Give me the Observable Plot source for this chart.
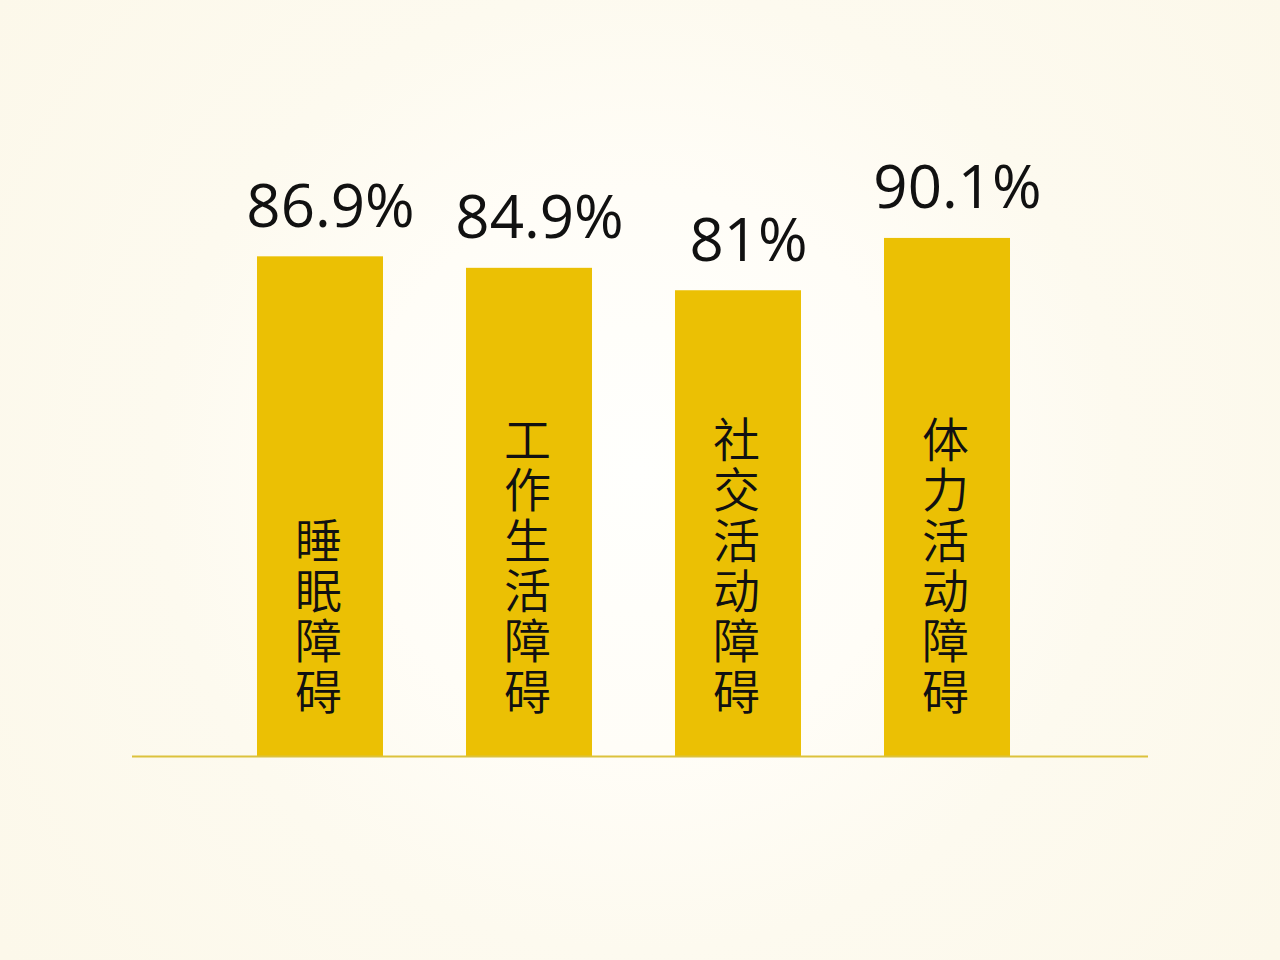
<!DOCTYPE html>
<html><head><meta charset="utf-8">
<script src="https://cdn.jsdelivr.net/npm/d3@7"></script>
<script src="https://cdn.jsdelivr.net/npm/@observablehq/plot@0.6"></script>
<style>
html,body{margin:0;padding:0;}
body{width:1280px;height:960px;overflow:hidden;background:radial-gradient(circle at 640px 470px, #fffffd 0px, #fffdf7 280px, #fdfaef 480px, #fcf8ea 800px);}
</style></head><body><div id="chart"></div>
<script>
const categories = ["睡眠障碍","工作生活障碍","社交活动障碍","体力活动障碍"];
const values = [86.9, 84.9, 81, 90.1];
const valueLabels = ["86.9%","84.9%","81%","90.1%"];
const data = categories.map((c,i)=>({category:c, value:values[i], label:valueLabels[i], vertical: Array.from(c).join("\n")}));
const chart = Plot.plot({
  width:1280, height:960, marginLeft:126, marginRight:138, marginTop:181, marginBottom:204,
  x:{domain:categories, axis:null, paddingInner:0.395, paddingOuter:0.617},
  y:{domain:[0,100], axis:null},
  style:{background:"transparent", overflow:"visible"},
  marks:[
    Plot.barY(data,{x:"category", y:"value", fill:"#ebc004"}),
    Plot.ruleY([0],{stroke:"#dcc23c", strokeWidth:2, insetLeft:6, insetRight:-6}),
    Plot.text(data,{x:"category", y:"value", text:"label", lineAnchor:"bottom", dy:-30, dx:10, fontSize:60, fontFamily:"'Open Sans', sans-serif", fill:"#111"}),
    Plot.text(data,{x:"category", y:0, text:"vertical", lineAnchor:"bottom", dy:-48, dx:-2, fontSize:47, lineHeight:1.07, fontWeight:350, fontFamily:"'Noto Sans CJK SC', sans-serif", fill:"#111"})
  ]
});
document.getElementById("chart").appendChild(chart);
</script>
</body></html>
